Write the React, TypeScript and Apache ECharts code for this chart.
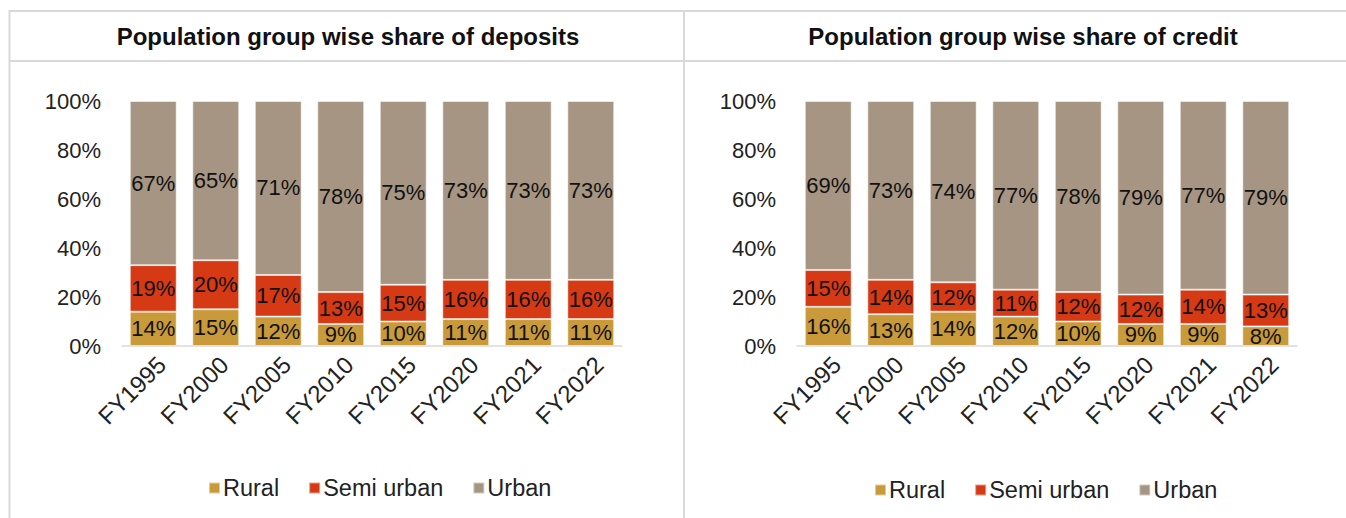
import React, { useEffect, useRef } from "react";
import * as echarts from "echarts";

const categories = ["FY1995", "FY2000", "FY2005", "FY2010", "FY2015", "FY2020", "FY2021", "FY2022"];
const seriesNames = ["Rural", "Semi urban", "Urban"];
const depositRural = [14, 15, 12, 9, 10, 11, 11, 11];
const depositSemi = [19, 20, 17, 13, 15, 16, 16, 16];
const depositUrban = [67, 65, 71, 78, 75, 73, 73, 73];
const creditRural = [16, 13, 14, 12, 10, 9, 9, 8];
const creditSemi = [15, 14, 12, 11, 12, 12, 14, 13];
const creditUrban = [69, 73, 74, 77, 78, 79, 77, 79];
const titles = ["Population group wise share of deposits", "Population group wise share of credit"];
const yTicks = { min: 0, max: 100, interval: 20 };

const colors = ["#C99A3A", "#D63A14", "#A69582"];
const FONT = "'Liberation Sans', Arial, sans-serif";

export default function App() {
  const ref = useRef<HTMLDivElement>(null);
  useEffect(() => {
    if (!ref.current) return;
    const chart = echarts.init(ref.current, undefined, { renderer: "svg" });
    const grids = [
      { left: 122, top: 101, width: 500, height: 245 },
      { left: 797, top: 101, width: 500, height: 245 },
    ];
    const data = [
      [depositRural, depositSemi, depositUrban],
      [creditRural, creditSemi, creditUrban],
    ];
    const series: any[] = [];
    data.forEach((group, gi) => {
      group.forEach((vals, si) => {
        series.push({
          type: "bar",
          name: seriesNames[si],
          stack: "s" + gi,
          xAxisIndex: gi,
          yAxisIndex: gi,
          barCategoryGap: "25%",
          data: vals,
          itemStyle: { color: colors[si], borderColor: "rgba(255,255,255,0.5)", borderWidth: 1 },
          label: {
            show: true,
            position: "inside",
            formatter: "{c}%",
            color: "#111",
            fontSize: 22,
            fontFamily: FONT,
          },
        });
      });
    });
    const lineStyle = { stroke: "#d9d9d9", lineWidth: 2 };
    const legendBase = {
      icon: "rect",
      itemWidth: 11,
      itemHeight: 11,
      itemGap: 29,
      data: seriesNames,
      textStyle: { fontSize: 23.5, color: "#222", fontFamily: FONT, padding: [0, 0, 0, -2] },
    };
    const option: any = {
      animation: false,
      textStyle: { fontFamily: FONT },
      color: colors,
      grid: grids,
      xAxis: grids.map((_, i) => ({
        type: "category",
        gridIndex: i,
        data: categories,
        axisLine: { lineStyle: { color: "#d9d9d9", width: 1.5 } },
        axisTick: { show: false },
        axisLabel: {
          rotate: 45,
          fontSize: 24,
          color: "#222",
          margin: 6,
          fontFamily: FONT,
          interval: 0,
          verticalAlign: "top",
        },
      })),
      yAxis: grids.map((_, i) => ({
        type: "value",
        gridIndex: i,
        min: yTicks.min,
        max: yTicks.max,
        interval: yTicks.interval,
        axisLine: { show: false },
        axisTick: { show: false },
        splitLine: { show: false },
        axisLabel: { formatter: "{value}%", fontSize: 22, color: "#222", margin: 21, fontFamily: FONT },
      })),
      legend: [
        { ...legendBase, left: 203, top: 471 },
        { ...legendBase, left: 869, top: 473 },
      ],
      graphic: [
        { type: "line", shape: { x1: 9, y1: 11, x2: 1346, y2: 11 }, style: lineStyle },
        { type: "line", shape: { x1: 9, y1: 61, x2: 1346, y2: 61 }, style: lineStyle },
        { type: "line", shape: { x1: 9.5, y1: 10, x2: 9.5, y2: 518 }, style: lineStyle },
        { type: "line", shape: { x1: 684, y1: 10, x2: 684, y2: 518 }, style: lineStyle },
        {
          type: "text",
          x: 348,
          y: 36,
          style: { text: titles[0], font: `bold 24px ${FONT}`, fill: "#111", textAlign: "center", textVerticalAlign: "middle" },
        },
        {
          type: "text",
          x: 1023,
          y: 36,
          style: { text: titles[1], font: `bold 24px ${FONT}`, fill: "#111", textAlign: "center", textVerticalAlign: "middle" },
        },
      ],
      series,
    };
    chart.setOption(option);
    return () => chart.dispose();
  }, []);
  return (
    <div
      ref={ref}
      style={{ position: "fixed", left: 0, top: 0, width: 1346, height: 518, background: "#fff" }}
    />
  );
}
